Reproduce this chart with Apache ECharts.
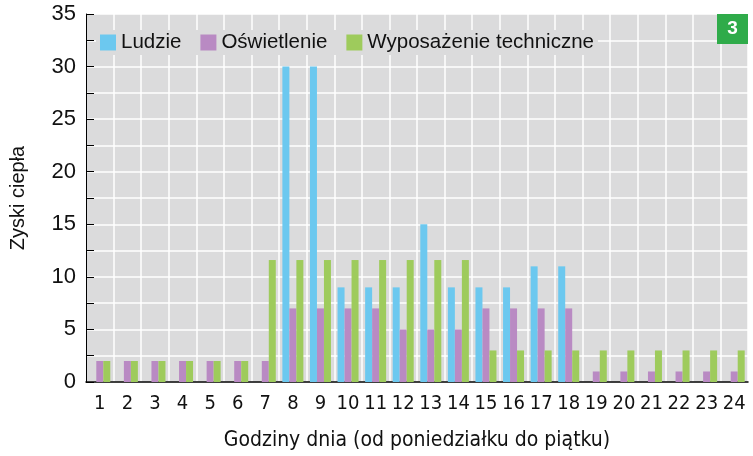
<!DOCTYPE html>
<html>
<head>
<meta charset="utf-8">
<script src="https://cdn.jsdelivr.net/npm/echarts@6/dist/echarts.min.js"></script>
<style>
  html, body { margin: 0; padding: 0; background: #fff; }
  #chart { width: 753px; height: 456px; }
</style>
</head>
<body>
<div id="chart"></div>
<script>
const hours = ['1', '2', '3', '4', '5', '6', '7', '8', '9', '10', '11', '12',
  '13', '14', '15', '16', '17', '18', '19', '20', '21', '22', '23', '24'];
const ludzie = [0, 0, 0, 0, 0, 0, 0, 30, 30, 9, 9, 9, 15, 9, 9, 9, 11, 11, 0, 0, 0, 0, 0, 0];
const oswietlenie = [2, 2, 2, 2, 2, 2, 2, 7, 7, 7, 7, 5, 5, 5, 7, 7, 7, 7, 1, 1, 1, 1, 1, 1];
const wyposazenie = [2, 2, 2, 2, 2, 2, 11.6, 11.6, 11.6, 11.6, 11.6, 11.6, 11.6, 11.6, 3, 3, 3, 3, 3, 3, 3, 3, 3, 3];

const narrow = "'DejaVu Sans Condensed', 'Liberation Sans Narrow', 'Liberation Sans', sans-serif";
const plain = "'Liberation Sans', Arial, sans-serif";

const chart = echarts.init(document.getElementById('chart'));

function bar(name, data, color) {
  return {
    name, type: 'bar', data,
    barWidth: 7, barGap: '0%',
    itemStyle: { color },
    emphasis: { disabled: true }
  };
}

chart.setOption({
  animation: false,
  backgroundColor: '#fff',
  grid: {
    left: 82, right: 5, top: 14, bottom: 67,
    show: true, backgroundColor: '#dbdbdc', borderWidth: 0
  },
  legend: {
    left: 96, top: 30,
    itemWidth: 16, itemHeight: 16, itemGap: 19,
    backgroundColor: '#dbdbdc',
    padding: [2, 4],
    icon: 'rect',
    textStyle: { fontFamily: plain, fontSize: 20.5, color: '#111' },
    data: ['Ludzie', 'Oświetlenie', 'Wyposażenie techniczne']
  },
  xAxis: {
    type: 'category', data: hours,
    name: 'Godziny dnia (od poniedziałku do piątku)',
    nameLocation: 'middle', nameGap: 48,
    nameTextStyle: { fontFamily: narrow, fontSize: 21, color: '#111' },
    axisLine: { lineStyle: { color: '#000', width: 1.5 } },
    axisTick: { inside: true, length: 8, lineStyle: { color: '#000' } },
    axisLabel: { interval: 0, fontFamily: narrow, fontSize: 20, color: '#111', margin: 12 },
    splitLine: { show: true, lineStyle: { color: '#fff', width: 1.5 } }
  },
  yAxis: {
    type: 'value', min: 0, max: 35, interval: 2.5,
    name: 'Zyski ciepła',
    nameLocation: 'middle', nameGap: 58, nameRotate: 90,
    nameTextStyle: { fontFamily: plain, fontSize: 20, color: '#111' },
    axisLine: { show: true, lineStyle: { color: '#000', width: 1 } },
    axisTick: { show: true, inside: true, length: 8, lineStyle: { color: '#000' } },
    axisLabel: {
      fontFamily: plain, fontSize: 22, color: '#111', margin: 10,
      formatter: v => (v % 5 === 0 ? String(v) : '')
    },
    splitLine: { show: true, lineStyle: { color: '#fff', width: 1.5 } }
  },
  series: [
    bar('Ludzie', ludzie, '#6cc8ef'),
    bar('Oświetlenie', oswietlenie, '#b98ac3'),
    bar('Wyposażenie techniczne', wyposazenie, '#9ecb5c')
  ],
  graphic: [{
    type: 'group', right: 5, top: 14, z: 100,
    children: [
      { type: 'rect', z: 100, shape: { x: 0, y: 0, width: 31, height: 30 }, style: { fill: '#2fab4a' } },
      { type: 'text', z: 101, x: 15.5, y: 15, style: {
        text: '3', fill: '#fff', font: "bold 19px 'Liberation Sans', Arial, sans-serif",
        align: 'center', verticalAlign: 'middle' } }
    ]
  }]
});
</script>
</body>
</html>
